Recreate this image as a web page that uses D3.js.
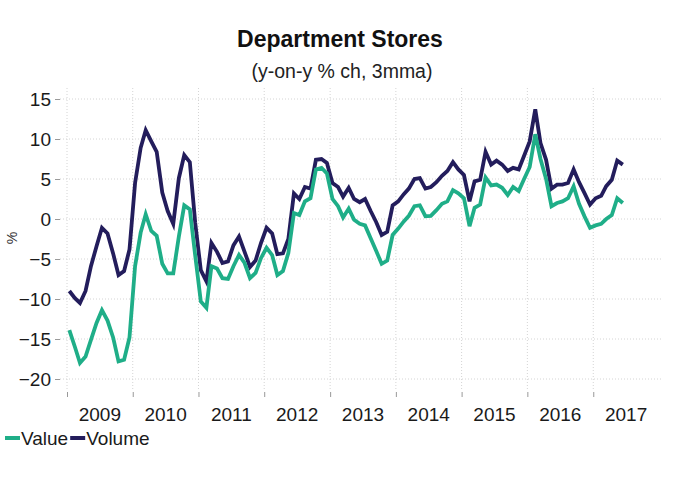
<!DOCTYPE html>
<html><head><meta charset="utf-8">
<script src="https://cdn.jsdelivr.net/npm/d3@7"></script>
<style>
body{margin:0;background:#fff;}
svg{display:block;font-family:"Liberation Sans",Arial,sans-serif;}
</style></head>
<body><div id="chart"></div>
<script>
const title = "Department Stores";
const subtitle = "(y-on-y % ch, 3mma)";
const yLabel = "%";
const yTicks = [15, 10, 5, 0, -5, -10, -15, -20];
const yearLabels = ["2009","2010","2011","2012","2013","2014","2015","2016","2017"];
const firstMonth = [2009, 0]; // Jan 2009, monthly data
const seriesNames = ["Value", "Volume"];
const seriesColors = ["#1fae88", "#231d5c"];
const valueSeries = [-13.9,-16.0,-18.0,-17.2,-15.1,-13.0,-11.4,-12.7,-14.8,-17.8,-17.6,-14.8,
 -5.9,-1.7,0.6,-1.5,-2.1,-5.6,-6.8,-6.8,-2.2,1.7,1.2,-4.6,
 -10.3,-11.1,-5.9,-6.2,-7.4,-7.5,-5.9,-4.5,-5.5,-7.4,-6.75,-4.9,
 -3.6,-4.5,-7.0,-6.5,-4.25,0.75,0.5,2.2,2.6,6.2,6.4,5.7,
 2.5,1.6,0.2,1.3,-0.1,-0.6,-0.8,-2.4,-4.0,-5.6,-5.2,-2.0,
 -1.2,-0.3,0.4,1.6,1.7,0.35,0.4,1.1,1.9,2.2,3.6,3.2,
 2.6,-0.9,1.4,1.8,5.2,4.2,4.3,3.9,3.0,4.0,3.5,5.0,
 6.5,10.6,7.5,5.0,1.6,2.0,2.2,2.6,4.1,1.9,0.3,-1.1,
 -0.8,-0.6,0.0,0.5,2.6,2.0];
const volumeSeries = [-9.0,-9.9,-10.5,-9.0,-5.9,-3.4,-1.1,-1.8,-4.3,-7.0,-6.5,-3.8,
 4.5,8.9,11.1,9.7,8.4,3.3,1.0,-0.6,5.1,8.0,7.1,-0.5,
 -6.4,-7.8,-3.0,-4.1,-5.5,-5.3,-3.3,-2.2,-4.1,-6.0,-5.2,-3.0,
 -1.1,-1.8,-4.4,-4.3,-2.5,3.2,2.5,4.0,3.8,7.4,7.5,7.0,
 4.5,4.0,2.8,3.9,2.5,2.1,2.5,1.0,-0.4,-2.0,-1.6,1.7,
 2.2,3.1,3.8,5.0,5.1,3.8,4.0,4.6,5.4,6.0,7.1,6.2,
 5.5,2.2,4.7,4.9,8.4,6.8,7.3,6.8,6.0,6.4,6.2,7.9,
 9.7,13.7,9.5,7.4,3.8,4.3,4.3,4.5,6.2,4.6,3.2,1.8,
 2.6,2.9,4.1,4.9,7.3,6.8];

const W = 700, H = 487;
const svg = d3.select("#chart").append("svg").attr("width", W).attr("height", H);

const months = valueSeries.map((_, i) => new Date(firstMonth[0], firstMonth[1] + i, 14));
const yearStarts = yearLabels.map(y => new Date(+y, 0, 1));

const x = d3.scaleTime().domain([new Date(2009,0,1), new Date(2018,0,1)]).range([67, 659]);
const y = d3.scaleLinear().domain([-20, 15]).range([379, 99]);
const plotLeft = 60, plotRight = 663, plotTop = 88, plotBottom = 390;

// horizontal gridlines
svg.append("g").selectAll("line").data(yTicks).join("line")
  .attr("x1", plotLeft).attr("x2", plotRight)
  .attr("y1", d => y(d)).attr("y2", d => y(d))
  .attr("stroke", "#d4d4d4").attr("stroke-width", 1).attr("stroke-dasharray", "1,2");
// vertical gridlines
svg.append("g").selectAll("line").data(yearStarts).join("line")
  .attr("x1", d => x(d)).attr("x2", d => x(d))
  .attr("y1", plotTop).attr("y2", plotBottom)
  .attr("stroke", "#d4d4d4").attr("stroke-width", 1).attr("stroke-dasharray", "1,2");

// y axis
const yAxis = d3.axisLeft(y).tickValues(yTicks).tickSize(5).tickPadding(4);
const gy = svg.append("g").attr("transform", `translate(${plotLeft},0)`).call(yAxis);
gy.select(".domain").remove();
gy.selectAll(".tick line").attr("stroke", "#999");
gy.selectAll(".tick text").attr("font-size", 19).attr("fill", "#1a1a1a")
  .attr("font-family", "Liberation Sans, Arial, sans-serif");

// x axis: ticks at year starts, labels centred in year
const xAxis = d3.axisBottom(x).tickValues(yearStarts).tickSize(5).tickFormat("");
const gx = svg.append("g").attr("transform", `translate(0,${plotBottom + 2})`).call(xAxis);
gx.select(".domain").remove();
gx.selectAll(".tick line").attr("stroke", "#999");
svg.append("g").selectAll("text").data(yearLabels).join("text")
  .attr("x", d => (x(new Date(+d,0,1)) + x(new Date(+d+1,0,1))) / 2)
  .attr("y", 421)
  .attr("text-anchor", "middle").attr("font-size", 19).attr("fill", "#1a1a1a")
  .text(d => d);

// y label
svg.append("text").attr("transform", "translate(17,238) rotate(-90)")
  .attr("text-anchor", "middle").attr("font-size", 14).attr("fill", "#333").text(yLabel);

// lines
const line = d3.line().x((d, i) => x(months[i])).y(d => y(d)).curve(d3.curveLinear);
[volumeSeries, valueSeries].forEach((s, k) => {
  const color = k === 0 ? seriesColors[1] : seriesColors[0];
  svg.append("path").datum(s).attr("d", line)
    .attr("fill", "none").attr("stroke", color).attr("stroke-width", 3.8)
    .attr("stroke-linejoin", "miter").attr("stroke-linecap", "butt");
});

// title
svg.append("text").attr("x", 340).attr("y", 47).attr("text-anchor", "middle")
  .attr("font-size", 23).attr("font-weight", "bold").attr("fill", "#111").text(title);
svg.append("text").attr("x", 342).attr("y", 78).attr("text-anchor", "middle")
  .attr("font-size", 19.5).attr("fill", "#222").text(subtitle);

// legend
const leg = svg.append("g");
let lx = 5;
seriesNames.forEach((n, i) => {
  leg.append("line").attr("x1", lx).attr("x2", lx + 15).attr("y1", 438).attr("y2", 438)
    .attr("stroke", seriesColors[i]).attr("stroke-width", 4);
  const t = leg.append("text").attr("x", lx + 16).attr("y", 445).attr("font-size", 19)
    .attr("fill", "#1a1a1a").text(n);
  lx += 16 + t.node().getComputedTextLength() + 2;
});
</script></body></html>
